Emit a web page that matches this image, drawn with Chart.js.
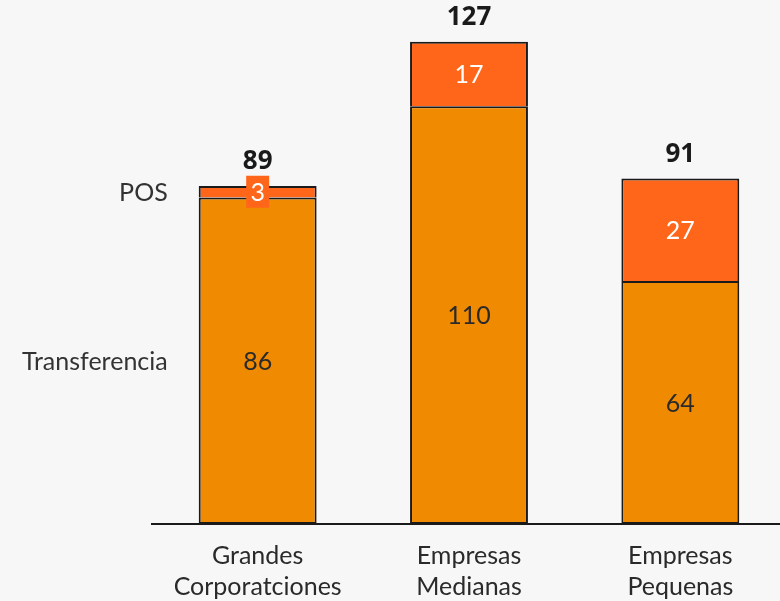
<!DOCTYPE html>
<html>
<head>
<meta charset="utf-8">
<script src="https://cdn.jsdelivr.net/npm/chart.js@4"></script>
<style>
  html, body { margin: 0; padding: 0; background: #f7f7f7; overflow: hidden; }
  #wrap { width: 786px; height: 601px; }
</style>
</head>
<body>
<div id="wrap"><canvas id="c" width="786" height="601"></canvas></div>
<script>
const categories = [["Grandes", "Corporatciones"], ["Empresas", "Medianas"], ["Empresas", "Pequenas"]];
const seriesNames = ["Transferencia", "POS"];
const transferencia = [86, 110, 64];
const pos = [3, 17, 27];
const totals = [89, 127, 91];

const labelFont = "Lato, 'Noto Sans', sans-serif";

const labelsPlugin = {
  id: 'labelsPlugin',
  afterDatasetsDraw(chart) {
    const ctx = chart.ctx;
    const m0 = chart.getDatasetMeta(0);
    const m1 = chart.getDatasetMeta(1);
    ctx.save();
    ctx.textBaseline = 'middle';
    ctx.textAlign = 'center';
    chart.data.datasets.forEach((ds, di) => {
      const meta = chart.getDatasetMeta(di);
      meta.data.forEach((bar, i) => {
        const cy = (bar.y + bar.base) / 2;
        const txt = String(ds.data[i]);
        ctx.font = "25px " + labelFont;
        if (di === 1 && Math.abs(bar.base - bar.y) < 30) {
          ctx.fillStyle = ds.backgroundColor;
          ctx.fillRect(bar.x - 11.5, cy - 16, 23, 32);
        }
        ctx.fillStyle = di === 0 ? '#2a2a2a' : '#ffffff';
        ctx.fillText(txt, bar.x, cy + 1);
      });
    });
    ctx.font = "bold 26px 'Noto Sans', 'Open Sans', sans-serif";
    ctx.fillStyle = '#1a1a1a';
    m1.data.forEach((bar, i) => {
      ctx.fillText(String(totals[i]), bar.x, chart.scales.y.getPixelForValue(totals[i]) - 24);
    });
    ctx.font = "25px " + labelFont;
    ctx.fillStyle = '#333333';
    ctx.textAlign = 'right';
    const b0 = m0.data[0], b1 = m1.data[0];
    const xr = b0.x - b0.width / 2 - 31;
    ctx.fillText(seriesNames[1], xr, (b1.y + b1.base) / 2 + 1);
    ctx.fillText(seriesNames[0], xr, (b0.y + b0.base) / 2 + 1);
    ctx.restore();
  }
};

new Chart(document.getElementById('c'), {
  type: 'bar',
  data: {
    labels: categories,
    datasets: [
      { label: seriesNames[0], data: transferencia, backgroundColor: '#f08a00', borderColor: '#1a1a1a', borderWidth: 2, borderSkipped: false },
      { label: seriesNames[1], data: pos, backgroundColor: '#ff661a', borderColor: '#1a1a1a', borderWidth: 2, borderSkipped: 'bottom' }
    ]
  },
  options: {
    responsive: false,
    animation: false,
    layout: { padding: { left: 152, right: 0, top: 0, bottom: -9 } },
    plugins: { legend: { display: false }, tooltip: { enabled: false } },
    datasets: { bar: { categoryPercentage: 1, barPercentage: 0.558 } },
    scales: {
      x: {
        stacked: true,
        grid: { display: false },
        border: { display: true, color: '#1a1a1a', width: 2 },
        ticks: { color: '#2a2a2a', font: { family: labelFont, size: 25, lineHeight: 1.24 }, padding: 8, maxRotation: 0, autoSkip: false }
      },
      y: {
        stacked: true,
        display: false,
        min: 0,
        max: 138
      }
    }
  },
  plugins: [labelsPlugin]
});
</script>
</body>
</html>
